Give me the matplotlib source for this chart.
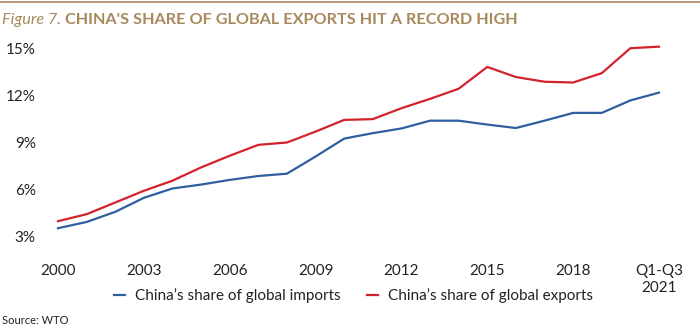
import numpy as np
import matplotlib
matplotlib.use('Agg')
import matplotlib.pyplot as plt
from matplotlib.lines import Line2D

# Share of global trade, percent (2000 .. Q1-Q3 2021)
years = list(range(2000, 2022))
imports_share = [3.5, 3.9, 4.55, 5.45, 6.05, 6.3, 6.6, 6.85, 7.0, 8.1, 9.25,
                 9.6, 9.9, 10.4, 10.4, 10.15, 9.93, 10.4, 10.9, 10.9, 11.7, 12.2]
exports_share = [3.95, 4.4, 5.15, 5.9, 6.55, 7.4, 8.15, 8.85, 9.0, 9.7, 10.45,
                 10.5, 11.2, 11.8, 12.45, 13.85, 13.2, 12.9, 12.85, 13.45, 15.05, 15.15]
tick_years = [2000, 2003, 2006, 2009, 2012, 2015, 2018, 2021]
tick_labels = ['2000', '2003', '2006', '2009', '2012', '2015', '2018', 'Q1-Q3\n2021']
y_ticks = [3, 6, 9, 12, 15]
series_names = ["China\u2019s share of global imports", "China\u2019s share of global exports"]

BLUE = '#2f5f9e'
RED = '#d2232a'
GOLD = '#a8895c'
TEXT = '#222222'

plt.rcParams['font.family'] = ['Lato', 'DejaVu Sans']

fig = plt.figure(figsize=(7, 3.32), dpi=100)
ax = fig.add_axes([58 / 700, (332 - 236) / 332, (659 - 58) / 700, (236 - 49) / 332])

l_imp, = ax.plot(years, imports_share, color=BLUE, lw=1.6, clip_on=False,
                 solid_joinstyle='round')
l_exp, = ax.plot(years, exports_share, color=RED, lw=1.6, clip_on=False,
                 solid_joinstyle='round')

ax.set_xlim(2000, 2021)
ax.set_ylim(3, 15)
ax.set_xticks(tick_years)
ax.set_xticklabels(tick_labels, fontsize=11, color=TEXT, linespacing=1.25)
ax.set_yticks(y_ticks)
ax.set_yticklabels([f'{v}%' for v in y_ticks], fontsize=11, color=TEXT)
ax.tick_params(axis='x', length=0, pad=20)
ax.tick_params(axis='y', length=0, pad=16)
for s in ax.spines.values():
    s.set_visible(False)

# one legend entry per series, placed side by side under the x labels
for line, name, x0 in [(l_imp, series_names[0], 114), (l_exp, series_names[1], 367)]:
    leg = fig.legend([line], [name], loc='center left',
                     bbox_to_anchor=(x0 / 700, 1 - 296 / 332), frameon=False,
                     fontsize=11, handlelength=0.7, handletextpad=0.7,
                     borderpad=0, borderaxespad=0, labelcolor=TEXT)

# heading rule and title
fig.add_artist(Line2D([0, 1], [1 - 2 / 332, 1 - 2 / 332], color=GOLD, lw=1.2,
                      transform=fig.transFigure))
t1 = fig.text(0.003, 1 - 20 / 332, 'Figure 7. ', fontsize=11.7, style='italic',
              color=GOLD, va='center', ha='left')
fig.canvas.draw()
bb = t1.get_window_extent()
fig.text(bb.x1 / fig.bbox.width, 1 - 20 / 332,
         "CHINA'S SHARE OF GLOBAL EXPORTS HIT A RECORD HIGH",
         fontsize=11.7, fontweight='bold', color=GOLD, va='center', ha='left')

fig.text(0.003, 1 - 320 / 332, 'Source: WTO', fontsize=8, color=TEXT,
         va='center', ha='left')

fig.savefig('out.png', dpi=100)
plt.close(fig)
